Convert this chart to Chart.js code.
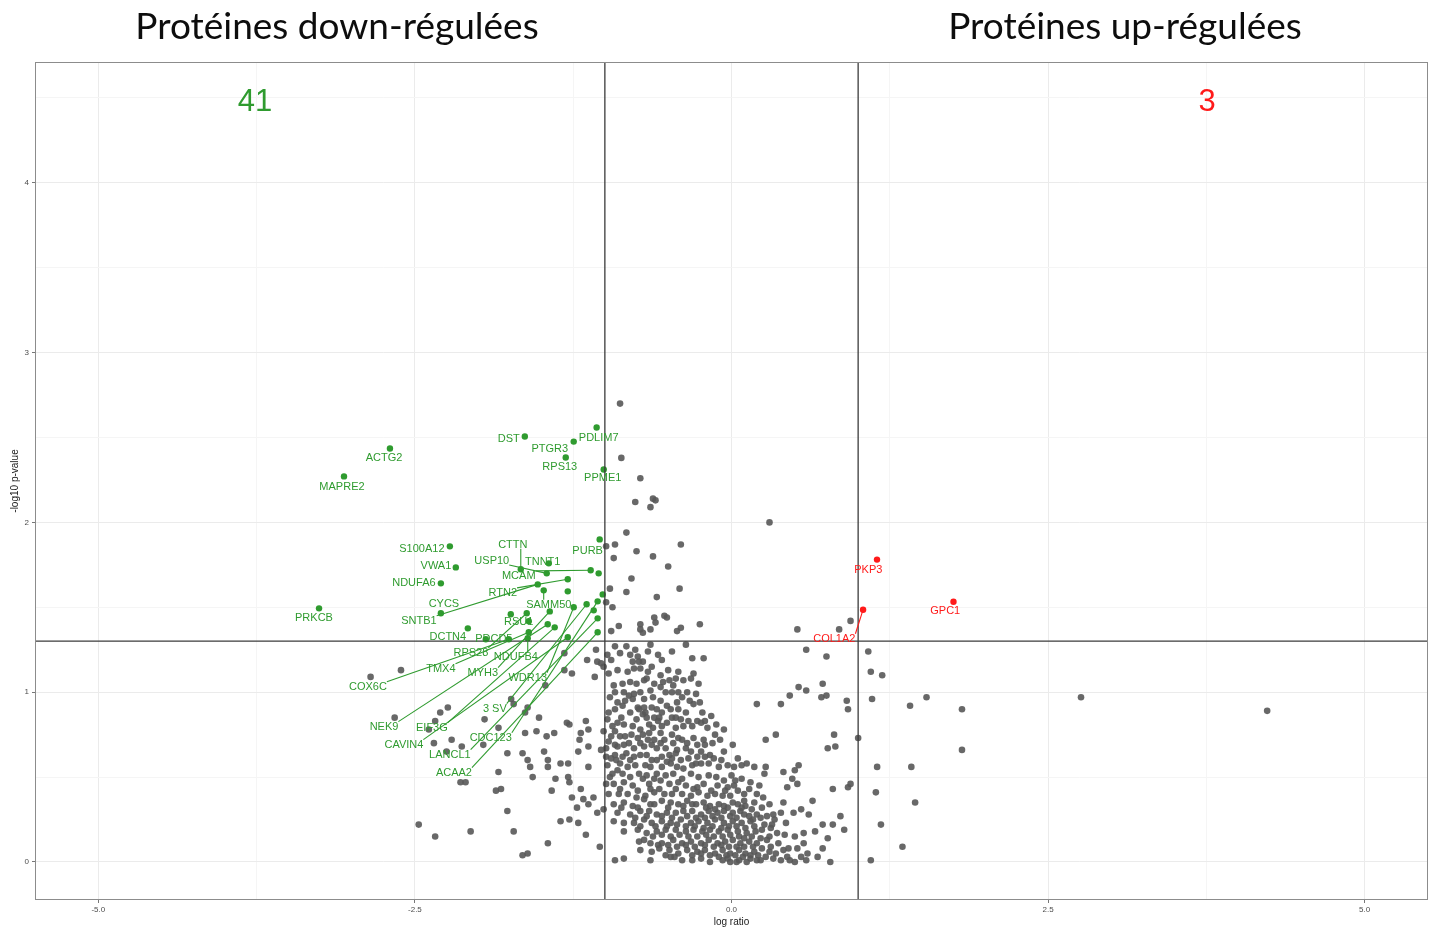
<!DOCTYPE html>
<html>
<head>
<meta charset="utf-8">
<script src="https://cdn.jsdelivr.net/npm/chart.js@4.4.1/dist/chart.umd.min.js"></script>
<style>
  html, body { margin: 0; padding: 0; background: #fff; }
  #wrap { position: relative; width: 1436px; height: 929px; }
</style>
</head>
<body>
<div id="wrap"><canvas id="volcano" width="1436" height="929"></canvas></div>
<script>
// Significance cut-offs
const foldCutoff = 1;       // |log ratio|
const pCutoff = 1.301;      // -log10(0.05)

// Significantly down-regulated proteins ('' = point without a label)
const downGenes = ['ACTG2','MAPRE2','DST','PDLIM7','PTGR3','RPS13','PPME1','S100A12','VWA1','NDUFA6',
  'PRKCB','PURB','CYCS','TNNT1','CTTN','USP10','MCAM','','RTN2','SNTB1',
  'SAMM50','','','CDC123','3 SV','WDR13','RSU1','RPS28','MYH3','NEK9',
  'EIF3G','CAVIN4','LANCL1','ACAA2','','DCTN4','PDCD5','COX6C','TMX4','NDUFB4',''];
const downLogRatio = [-2.697,-3.060,-1.632,-1.065,-1.246,-1.309,-1.009,-2.224,-2.177,-2.295,
  -3.257,-1.041,-2.295,-1.443,-1.664,-1.459,-1.112,-1.049,-1.293,-1.530,
  -1.483,-1.293,-1.017,-1.057,-1.144,-1.246,-1.743,-1.617,-1.435,-1.451,
  -1.396,-1.293,-1.057,-1.057,-1.088,-2.082,-1.940,-1.759,-1.601,-1.609,-1.601];
const downNegLogP = [2.435,2.271,2.506,2.559,2.476,2.382,2.312,1.859,1.735,1.641,
  1.494,1.900,1.465,1.759,1.724,1.700,1.718,1.700,1.665,1.635,
  1.600,1.594,1.576,1.535,1.518,1.500,1.459,1.465,1.476,1.400,
  1.382,1.324,1.435,1.353,1.482,1.376,1.312,1.312,1.353,1.318,1.418];

// Significantly up-regulated proteins
const upGenes = ['PKP3','GPC1','COL1A2'];
const upLogRatio = [1.149, 1.753, 1.039];
const upNegLogP = [1.781, 1.533, 1.486];

// All other quantified proteins: [log ratio, -log10 p-value]
const backgroundProteins = [
  [-0.88,2.70],[-0.87,2.38],[-0.72,2.26],[-0.76,2.12],[-0.62,2.14],[-0.60,2.13],[-0.64,2.09],[-0.83,1.94],[-0.99,1.86],[-0.92,1.87],
  [-0.93,1.79],[-0.75,1.83],[-0.62,1.80],[-0.40,1.87],[-0.50,1.74],[-0.79,1.67],[-0.83,1.59],[-0.96,1.61],[-0.41,1.61],[-0.59,1.56],
  [-0.99,1.53],[-0.94,1.50],[-0.61,1.44],[-0.53,1.45],[-0.51,1.44],[-0.60,1.41],[-0.72,1.40],[-0.72,1.37],[-0.64,1.37],[-0.70,1.35],
  [-0.89,1.39],[-0.95,1.36],[-0.25,1.40],[-0.43,1.36],[-0.40,1.38],
  [-1.07,1.25],[-1.14,1.19],[-1.06,1.18],[-1.32,1.23],[-1.32,1.13],[-1.26,1.11],[-1.03,1.17],[-1.08,1.09],[-1.01,1.15],[-1.47,1.04],
  [-1.74,0.96],[-1.61,0.91],[-1.63,0.88],[-1.52,0.85],[-1.30,0.82],[-1.28,0.81],[-1.15,0.83],[-1.19,0.76],[-1.13,0.78],[-1.95,0.84],
  [-1.20,0.72],[-1.40,0.76],[-1.46,0.74],[-1.54,0.77],[-1.63,0.76],[-1.77,0.64],[-1.65,0.64],[-1.61,0.60],[-1.48,0.65],[-1.45,0.60],
  [-1.35,0.58],[-1.29,0.58],[-1.21,0.65],[-1.13,0.56],[-1.13,0.68],[-1.03,0.66],[-1.01,0.77],[-1.59,0.56],[-1.57,0.50],[-1.45,0.56],
  [-1.39,0.49],[-1.29,0.50],[-1.28,0.47],[-1.26,0.38],[-1.19,0.43],[-1.17,0.37],[-1.13,0.34],[-1.06,0.29],[-1.22,0.32],[-1.09,0.38],
  [-1.01,0.31],[-1.84,0.53],[-1.86,0.42],[-1.82,0.43],[-1.77,0.30],[-2.06,0.18],[-1.72,0.18],[-1.45,0.11],[-1.65,0.04],[-1.61,0.05],
  [-1.35,0.24],[-1.28,0.25],[-1.21,0.23],[-1.15,0.16],[-1.04,0.09],[-1.42,0.42],[-2.14,0.47],[-2.10,0.47],[-1.96,0.69],[-2.24,0.91],
  [-2.85,1.09],[-2.61,1.13],[-2.66,0.85],[-2.30,0.88],[-2.34,0.83],[-2.39,0.78],[-2.35,0.70],[-2.21,0.72],[-2.13,0.68],[-2.25,0.65],
  [-1.84,0.79],[-1.72,0.93],[-2.47,0.22],[-2.34,0.15],
  [-0.92,1.27],[-0.83,1.27],[-0.64,1.28],[-0.36,1.28],[-0.80,1.22],[-0.76,1.25],[-0.70,1.18],[-0.55,1.19],[-0.31,1.20],[-0.22,1.20],
  [-0.95,1.19],[-0.97,1.11],[-0.77,1.14],[-0.72,1.14],[-0.63,1.15],[-0.78,1.18],[-0.73,1.18],[-0.42,1.12],[-0.30,1.11],[-0.86,1.05],
  [-0.80,1.06],[-0.69,1.07],[-0.67,1.08],[-0.61,1.05],[-0.49,1.07],[-0.38,1.07],[-0.32,1.08],[-0.56,1.03],
  [-0.92,1.00],[-0.85,1.00],[-0.77,0.99],[-0.72,1.00],[-0.64,1.01],[-0.52,1.00],[-0.47,1.00],[-0.42,1.00],[-0.35,1.00],[-0.28,0.99],
  [-0.84,0.95],[-0.78,0.96],[-0.86,0.92],[-0.56,0.95],[-0.51,0.92],[-0.43,0.94],[-0.42,0.90],[-0.30,0.93],[0.20,0.93],[-0.92,0.90],
  [-0.90,0.94],[-0.74,0.91],[-0.73,0.90],[-0.63,0.91],[-0.59,0.90],[-0.55,0.88],
  [-0.70,0.87],[-0.68,0.88],[-0.67,0.85],[-0.61,0.85],[-0.57,0.85],[-0.47,0.85],[-0.44,0.85],[-0.40,0.84],[-0.27,0.83],[-0.21,0.83],
  [-0.94,0.80],[-0.90,0.82],[-0.85,0.81],[-0.78,0.80],[-0.72,0.78],[-0.65,0.81],[-0.55,0.80],[-0.51,0.82],[-0.38,0.80],[-0.31,0.80],[-0.24,0.82],
  [-0.99,0.67],[-0.95,0.74],[-0.88,0.74],[-0.84,0.74],[-0.81,0.70],[-0.74,0.73],[-0.70,0.75],[-0.65,0.76],[-0.61,0.72],[-0.56,0.76],
  [-0.53,0.72],[-0.47,0.75],[-0.46,0.70],[-0.39,0.72],[-0.30,0.73],[-0.22,0.72],[-0.13,0.75],[-0.90,0.68],[-0.85,0.69],[-0.77,0.67],
  [-0.69,0.68],[-0.63,0.69],[-0.59,0.67],[-0.52,0.67],[-0.49,0.63],[-0.43,0.66],[-0.36,0.67],[-0.32,0.65],[-0.24,0.65],[-0.21,0.69],[-0.17,0.63],
  [-0.99,0.62],[-0.95,0.61],[-0.92,0.63],[-0.86,0.62],[-0.80,0.60],[-0.72,0.63],[-0.67,0.63],[-0.59,0.60],[-0.55,0.62],[-0.47,0.61],
  [-0.40,0.60],[-0.34,0.61],[-0.27,0.62],[-0.21,0.62],[-0.88,0.58],[-0.82,0.56],[-0.76,0.57],[-0.68,0.57],[-0.64,0.56],[-0.55,0.56],
  [-0.48,0.58],[-0.43,0.56],[-0.38,0.55],[-0.31,0.57],[-0.24,0.58],[-0.18,0.58],[-0.10,0.56],[-0.03,0.57],[0.02,0.56],[0.08,0.57],
  [0.18,0.56],[-0.94,0.52],[-0.90,0.54],[-0.73,0.52],[-0.59,0.52],[-0.46,0.52],[-0.32,0.52],[-0.18,0.51],[0.03,0.48],
  [-0.99,0.46],[-0.93,0.46],[-0.85,0.47],[-0.78,0.45],[-0.70,0.49],[-0.65,0.46],[-0.56,0.48],[-0.49,0.46],[-0.42,0.47],[-0.36,0.45],
  [-0.27,0.44],[-0.22,0.46],[-0.11,0.45],[-0.03,0.44],[0.05,0.42],[0.10,0.40],[-0.97,0.40],[-0.89,0.40],[-0.82,0.40],[-0.74,0.42],
  [-0.68,0.39],[-0.61,0.41],[-0.53,0.40],[-0.47,0.40],[-0.39,0.40],[-0.32,0.39],[-0.26,0.41],[-0.19,0.39],[-0.13,0.40],[-0.07,0.39],
  [-0.01,0.39],[0.10,0.36],[0.18,0.35],[-0.93,0.34],[-0.85,0.35],[-0.78,0.33],[-0.69,0.37],[-0.61,0.34],[-0.55,0.36],[-0.48,0.35],
  [-0.42,0.34],[-0.35,0.36],[-0.28,0.34],[-0.22,0.35],[-0.17,0.33],[-0.10,0.34],[-0.03,0.32],[0.05,0.34],[0.11,0.33],
  [-0.90,0.29],[-0.80,0.28],[-0.72,0.30],[-0.65,0.30],[-0.59,0.28],[-0.51,0.29],[-0.44,0.29],[-0.38,0.30],[-0.31,0.30],[-0.24,0.28],
  [-0.18,0.30],[-0.11,0.29],[-0.06,0.30],[0.01,0.29],[0.07,0.30],[0.14,0.27],[0.20,0.28],[-0.93,0.24],[-0.85,0.23],[-0.77,0.23],
  [-0.69,0.25],[-0.63,0.23],[-0.55,0.24],[-0.48,0.23],[-0.40,0.25],[-0.32,0.23],[-0.26,0.24],[-0.19,0.23],[-0.13,0.25],[-0.06,0.23],
  [0.01,0.24],[0.08,0.23],[0.15,0.24],[-0.85,0.18],[-0.74,0.19],[-0.67,0.17],[-0.59,0.18],[-0.52,0.19],[-0.44,0.19],[-0.36,0.18],
  [-0.30,0.19],[-0.23,0.18],[-0.17,0.19],[-0.10,0.18],[-0.03,0.19],[0.05,0.18],[0.12,0.17],[0.19,0.18],
  [-0.73,0.12],[-0.69,0.13],[-0.64,0.11],[-0.55,0.11],[-0.46,0.13],[-0.39,0.11],[-0.32,0.12],[-0.24,0.11],[-0.18,0.13],[-0.11,0.11],
  [-0.05,0.12],[0.01,0.13],[0.07,0.11],[0.14,0.12],[0.20,0.11],[-0.72,0.07],[-0.63,0.06],[-0.57,0.08],[-0.49,0.07],[-0.42,0.05],
  [-0.35,0.07],[-0.27,0.06],[-0.21,0.07],[-0.13,0.05],[-0.07,0.07],[-0.01,0.05],[0.06,0.07],[0.11,0.05],[0.18,0.06],[-0.92,0.01],
  [-0.85,0.02],[-0.64,0.01],[-0.48,0.03],[-0.39,0.01],[-0.31,0.01],[-0.24,0.02],[-0.17,0.00],[-0.07,0.01],[-0.01,0.00],[0.06,0.01],
  [0.12,0.00],[0.20,0.01],[-0.03,0.02],[0.04,0.00],[0.15,0.02],[0.23,0.01],
  // dense core of the distribution
  [-0.98,1.22],[-0.88,1.23],[-0.74,1.21],[-0.66,1.24],[-0.58,1.22],[-0.47,1.24],[-0.90,1.13],[-0.82,1.12],[-0.66,1.12],[-0.56,1.10],
  [-0.50,1.13],[-0.44,1.08],[-0.93,1.04],[-0.75,1.05],[-0.54,1.06],[-0.46,1.04],[-0.26,1.05],[-0.96,0.97],[-0.81,0.98],[-0.69,0.96],
  [-0.62,0.97],[-0.39,0.97],[-0.33,0.95],[-0.25,0.94],[-0.97,0.88],[-0.80,0.88],[-0.69,0.91],[-0.48,0.90],[-0.36,0.88],[-0.23,0.88],[-0.16,0.86],
  [-0.98,0.84],[-0.92,0.77],[-0.87,0.85],[-0.75,0.84],[-0.62,0.79],[-0.58,0.83],[-0.44,0.79],[-0.34,0.83],[-0.19,0.79],[-0.12,0.81],[-0.06,0.78],
  [-0.97,0.71],[-0.92,0.69],[-0.79,0.75],[-0.72,0.70],[-0.66,0.72],[-0.56,0.70],[-0.42,0.73],[-0.35,0.70],[-0.27,0.69],[-0.15,0.70],
  [-0.09,0.72],[0.01,0.69],[-0.06,0.65],
  [-0.98,0.57],[-0.91,0.60],[-0.83,0.64],[-0.77,0.62],[-0.63,0.60],[-0.51,0.59],[-0.44,0.64],[-0.28,0.58],[-0.14,0.61],[-0.08,0.60],[0.05,0.61],[0.12,0.58],
  [-0.96,0.50],[-0.86,0.52],[-0.80,0.50],[-0.67,0.51],[-0.61,0.49],[-0.52,0.51],[-0.39,0.49],[-0.26,0.50],[-0.12,0.50],[-0.06,0.48],
  [0.00,0.51],[0.08,0.49],[0.15,0.47],[0.22,0.45],
  [-0.88,0.43],[-0.75,0.38],[-0.64,0.43],[-0.57,0.43],[-0.44,0.43],[-0.30,0.43],[-0.16,0.42],[-0.05,0.42],[0.02,0.45],[0.14,0.43],[0.20,0.40],[0.25,0.38],
  [-0.87,0.32],[-0.74,0.32],[-0.64,0.34],[-0.50,0.32],[-0.38,0.33],[-0.31,0.34],[-0.20,0.32],[-0.13,0.31],[-0.06,0.33],[0.01,0.35],
  [0.08,0.32],[0.16,0.31],[0.24,0.32],[0.30,0.34],
  [-0.76,0.26],[-0.67,0.27],[-0.55,0.27],[-0.47,0.26],[-0.35,0.27],[-0.28,0.26],[-0.21,0.26],[-0.15,0.27],[-0.08,0.26],[-0.01,0.27],
  [0.04,0.26],[0.10,0.28],[0.17,0.25],[0.23,0.26],[0.34,0.25],
  [-0.72,0.21],[-0.60,0.21],[-0.51,0.21],[-0.43,0.22],[-0.36,0.21],[-0.29,0.21],[-0.22,0.20],[-0.15,0.21],[-0.08,0.20],[-0.02,0.21],
  [0.04,0.21],[0.11,0.20],[0.18,0.21],[0.24,0.19],[0.32,0.22],
  [-0.62,0.15],[-0.55,0.16],[-0.48,0.15],[-0.41,0.16],[-0.34,0.15],[-0.27,0.15],[-0.20,0.16],[-0.14,0.15],[-0.07,0.15],[-0.01,0.16],
  [0.06,0.15],[0.10,0.14],[0.16,0.15],[0.23,0.14],[0.30,0.15],[0.42,0.16],
  [-0.58,0.10],[-0.50,0.10],[-0.43,0.09],[-0.36,0.10],[-0.29,0.09],[-0.21,0.10],[-0.14,0.09],[-0.08,0.10],[-0.02,0.09],[0.04,0.09],
  [0.10,0.09],[0.17,0.09],[0.24,0.08],[0.31,0.09],[0.41,0.07],
  [-0.52,0.04],[-0.45,0.03],[-0.31,0.04],[-0.24,0.05],[-0.17,0.04],[-0.10,0.03],[-0.04,0.04],[0.03,0.04],[0.09,0.03],[0.15,0.04],
  [0.21,0.04],[0.30,0.06],[0.33,0.02],[0.46,0.01],[0.55,0.03],
  // right-hand side
  [0.30,2.00],[0.52,1.37],[0.85,1.37],[0.94,1.42],[0.59,1.25],[0.75,1.21],[1.08,1.24],[1.10,1.12],[1.19,1.10],[0.53,1.03],
  [0.59,1.01],[0.72,1.05],[0.71,0.97],[0.75,0.98],[0.46,0.98],[0.39,0.93],[0.91,0.95],[0.92,0.90],[1.11,0.96],[1.41,0.92],
  [1.54,0.97],[1.82,0.90],[0.27,0.72],[0.35,0.75],[0.81,0.75],[0.76,0.67],[0.82,0.68],[1.00,0.73],[1.82,0.66],[0.27,0.56],
  [0.50,0.54],[0.53,0.57],[0.41,0.53],[0.26,0.52],[0.48,0.49],[0.52,0.46],[0.44,0.44],[0.80,0.43],[0.92,0.44],[0.94,0.46],
  [1.15,0.56],[1.42,0.56],[1.14,0.41],[0.41,0.35],[0.64,0.36],[1.45,0.35],[0.33,0.28],[0.49,0.29],[0.55,0.31],[0.61,0.28],
  [0.86,0.27],[0.28,0.27],[0.39,0.29],[0.72,0.22],[0.80,0.22],[0.89,0.19],[1.18,0.22],[0.66,0.18],[0.57,0.17],[0.50,0.15],
  [0.76,0.14],[0.43,0.23],[1.35,0.09],[0.72,0.08],[0.68,0.03],[0.78,0.00],[1.10,0.01],[0.59,0.01],[0.50,0.00],[0.44,0.03],
  [0.52,0.08],[0.45,0.08],[0.37,0.11],[0.26,0.22],[0.31,0.20],[0.36,0.17],[0.28,0.13],[0.35,0.05],[0.27,0.03],[0.39,0.01],
  [0.57,0.11],[0.60,0.05],
  [2.76,0.97],[4.23,0.89]
];

// Gene label placement (data units), repelled away from the points
const labelSpots = {
  'ACTG2': [-2.744, 2.382], 'MAPRE2': [-3.076, 2.212], 'DST': [-1.759, 2.494], 'PDLIM7': [-1.049, 2.500],
  'PTGR3': [-1.435, 2.435], 'RPS13': [-1.356, 2.329], 'PPME1': [-1.017, 2.265], 'S100A12': [-2.445, 1.847],
  'VWA1': [-2.334, 1.747], 'NDUFA6': [-2.508, 1.647], 'PRKCB': [-3.297, 1.441], 'PURB': [-1.136, 1.835],
  'CYCS': [-2.271, 1.524], 'TNNT1': [-1.491, 1.771], 'CTTN': [-1.727, 1.871], 'USP10': [-1.893, 1.776],
  'MCAM': [-1.680, 1.688], 'RTN2': [-1.806, 1.588], 'SNTB1': [-2.468, 1.424], 'SAMM50': [-1.443, 1.518],
  'CDC123': [-1.901, 0.735], '3 SV': [-1.869, 0.906], 'WDR13': [-1.609, 1.088], 'RSU1': [-1.680, 1.418],
  'RPS28': [-2.058, 1.235], 'MYH3': [-1.964, 1.118], 'NEK9': [-2.744, 0.800], 'EIF3G': [-2.366, 0.794],
  'CAVIN4': [-2.587, 0.694], 'LANCL1': [-2.224, 0.635], 'ACAA2': [-2.192, 0.529], 'DCTN4': [-2.240, 1.329],
  'PDCD5': [-1.877, 1.318], 'COX6C': [-2.871, 1.035], 'TMX4': [-2.295, 1.141], 'NDUFB4': [-1.703, 1.212],
  'PKP3': [1.080, 1.724], 'GPC1': [1.688, 1.482], 'COL1A2': [0.812, 1.318]
};

const GREEN = '#2f9b2f';
const RED = '#ff1a1a';
const GREY = 'rgba(88,88,88,0.9)';

function drawGeneLabels(ctx, xs, ys, names, xv, yv, color) {
  ctx.font = '11px "Liberation Sans", Arial, sans-serif';
  ctx.textAlign = 'center';
  ctx.textBaseline = 'middle';
  ctx.strokeStyle = color;
  ctx.fillStyle = color;
  ctx.lineWidth = 1.1;
  const placed = [];
  names.forEach((name, i) => {
    if (!name || !labelSpots[name]) return;
    const px = xs.getPixelForValue(xv[i]);
    const py = ys.getPixelForValue(yv[i]);
    const lx = xs.getPixelForValue(labelSpots[name][0]);
    const ly = ys.getPixelForValue(labelSpots[name][1]);
    const w = ctx.measureText(name).width;
    const h = 9;
    const cx = Math.min(Math.max(px, lx - w / 2), lx + w / 2);
    const cy = Math.min(Math.max(py, ly - h / 2), ly + h / 2);
    if (Math.hypot(px - cx, py - cy) > 7) {
      ctx.beginPath();
      ctx.moveTo(px, py);
      ctx.lineTo(cx, cy);
      ctx.stroke();
    }
    placed.push([name, lx, ly]);
  });
  placed.forEach(([name, lx, ly]) => ctx.fillText(name, lx, ly + 0.5));
}

const isMultiple = (v, step) => Math.abs(v / step - Math.round(v / step)) < 1e-6;

const volcanoDecor = {
  id: 'volcanoDecor',
  beforeDraw(chart) {
    const ctx = chart.ctx;
    ctx.save();
    ctx.fillStyle = '#ffffff';
    ctx.fillRect(0, 0, chart.width, chart.height);
    ctx.restore();
  },
  afterDatasetsDraw(chart) {
    const { ctx, chartArea: a, scales: { x, y } } = chart;
    ctx.save();
    // cut-off lines
    ctx.strokeStyle = '#3c3c3c';
    ctx.lineWidth = 1.3;
    ctx.beginPath();
    [-foldCutoff, foldCutoff].forEach(v => {
      const px = x.getPixelForValue(v);
      ctx.moveTo(px, a.top);
      ctx.lineTo(px, a.bottom);
    });
    const hy = y.getPixelForValue(pCutoff);
    ctx.moveTo(a.left, hy);
    ctx.lineTo(a.right, hy);
    ctx.stroke();
    // panel frame
    ctx.strokeStyle = '#8c8c8c';
    ctx.lineWidth = 1;
    ctx.strokeRect(a.left + 0.5, a.top + 0.5, a.width - 1, a.height - 1);
    // gene labels
    drawGeneLabels(ctx, x, y, downGenes, downLogRatio, downNegLogP, GREEN);
    drawGeneLabels(ctx, x, y, upGenes, upLogRatio, upNegLogP, RED);
    ctx.restore();
  },
  afterDraw(chart) {
    const ctx = chart.ctx;
    ctx.save();
    // headings
    const left = 'Protéines down-régulées';
    const right = 'Protéines up-régulées';
    ctx.font = '36px Lato, "Open Sans", sans-serif';
    const size = 36 * 403 / ctx.measureText(left).width;
    ctx.font = size.toFixed(1) + 'px Lato, "Open Sans", sans-serif';
    ctx.fillStyle = '#0d0d0d';
    ctx.textAlign = 'center';
    ctx.textBaseline = 'alphabetic';
    ctx.fillText(left, 337, 39);
    ctx.fillText(right, 1125, 39);
    // counts of significant proteins
    ctx.font = '31px "Liberation Sans", Arial, sans-serif';
    ctx.fillStyle = GREEN;
    ctx.fillText(String(downGenes.length), 255, 111);
    ctx.fillStyle = RED;
    ctx.fillText(String(upGenes.length), 1207, 111);
    ctx.restore();
  }
};

const toPoints = (xs, ys) => xs.map((v, i) => ({ x: v, y: ys[i] }));

new Chart(document.getElementById('volcano'), {
  type: 'scatter',
  data: {
    datasets: [
      { label: 'up', data: toPoints(upLogRatio, upNegLogP), backgroundColor: RED,
        pointRadius: 3.2, borderWidth: 0, order: 1 },
      { label: 'down', data: toPoints(downLogRatio, downNegLogP), backgroundColor: GREEN,
        pointRadius: 3.2, borderWidth: 0, order: 1 },
      { label: 'other', data: backgroundProteins.map(([lr, p]) => ({ x: lr, y: p })), backgroundColor: GREY,
        pointRadius: 3.3, borderWidth: 0, order: 2 }
    ]
  },
  options: {
    responsive: false,
    devicePixelRatio: 1,
    animation: false,
    layout: { padding: { top: 62, right: 8, left: 0, bottom: 0 } },
    plugins: { legend: { display: false }, tooltip: { enabled: false } },
    scales: {
      x: {
        type: 'linear', min: -5.5, max: 5.5,
        afterFit(s) { s.height = 29; },
        border: { display: false },
        grid: {
          color: c => isMultiple(c.tick.value, 2.5) ? '#ebebeb' : '#f5f5f5',
          tickColor: c => isMultiple(c.tick.value, 2.5) ? '#777777' : 'rgba(0,0,0,0)',
          tickLength: 3, lineWidth: 1
        },
        ticks: {
          stepSize: 1.25, includeBounds: false, autoSkip: false, maxRotation: 0, padding: 2,
          color: '#4d4d4d', font: { size: 8, family: '"Liberation Sans", Arial, sans-serif' },
          callback: v => isMultiple(v, 2.5) ? v.toFixed(1) : ''
        },
        title: { display: true, text: 'log ratio', color: '#1a1a1a',
          font: { size: 10, family: '"Liberation Sans", Arial, sans-serif' }, padding: { top: 0, bottom: 1 } }
      },
      y: {
        type: 'linear', min: -0.224, max: 4.712,
        afterFit(s) { s.width = 35; },
        border: { display: false },
        grid: {
          color: c => isMultiple(c.tick.value, 1) ? '#ebebeb' : '#f5f5f5',
          tickColor: c => isMultiple(c.tick.value, 1) ? '#777777' : 'rgba(0,0,0,0)',
          tickLength: 3, lineWidth: 1
        },
        ticks: {
          stepSize: 0.5, includeBounds: false, autoSkip: false, padding: 3,
          color: '#4d4d4d', font: { size: 8, family: '"Liberation Sans", Arial, sans-serif' },
          callback: v => isMultiple(v, 1) ? String(Math.round(v)) : ''
        },
        title: { display: true, text: '-log10 p-value', color: '#1a1a1a',
          font: { size: 10, family: '"Liberation Sans", Arial, sans-serif' }, padding: { top: 9, bottom: 0 } }
      }
    }
  },
  plugins: [volcanoDecor]
});
</script>
</body>
</html>
